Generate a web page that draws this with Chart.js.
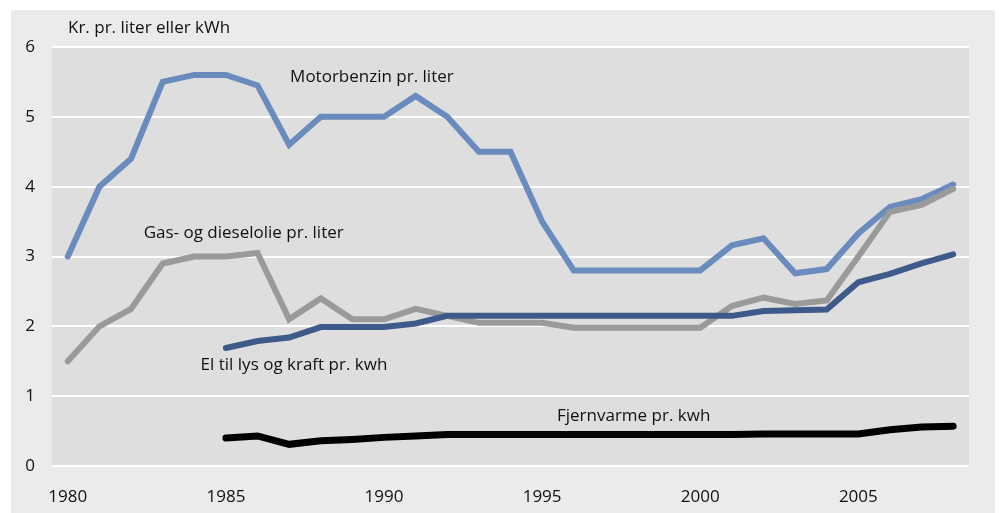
<!DOCTYPE html>
<html>
<head>
<meta charset="utf-8">
<script src="https://cdn.jsdelivr.net/npm/chart.js@4"></script>
<style>
    html, body { margin: 0; padding: 0; background: #ffffff; }
    #wrap { width: 1000px; height: 513px; }
</style>
</head>
<body>
<div id="wrap"><canvas id="priceChart" width="1000" height="513"></canvas></div>
<script>
// Years on the x axis
const years = [];
for (let y = 1980; y <= 2008; y++) years.push(String(y));

// Kr. per liter / kWh
const motorbenzin = [3.0, 4.0, 4.4, 5.5, 5.6, 5.6, 5.45, 4.6, 5.0, 5.0,
    5.0, 5.3, 5.0, 4.5, 4.5, 3.5, 2.8, 2.8, 2.8, 2.8,
    2.8, 3.16, 3.26, 2.76, 2.82, 3.33, 3.71, 3.82, 4.03];
const gasDiesel = [1.5, 2.0, 2.25, 2.9, 3.0, 3.0, 3.05, 2.1, 2.4, 2.1,
    2.1, 2.25, 2.15, 2.05, 2.05, 2.05, 1.98, 1.98, 1.98, 1.98,
    1.98, 2.29, 2.41, 2.32, 2.37, 3.0, 3.64, 3.74, 3.97];
const elKraft = [null, null, null, null, null, 1.69, 1.79, 1.84, 1.99, 1.99,
    1.99, 2.04, 2.15, 2.15, 2.15, 2.15, 2.15, 2.15, 2.15, 2.15,
    2.15, 2.15, 2.22, 2.23, 2.24, 2.63, 2.75, 2.9, 3.03];
const fjernvarme = [null, null, null, null, null, 0.4, 0.43, 0.31, 0.36, 0.38,
    0.41, 0.43, 0.45, 0.45, 0.45, 0.45, 0.45, 0.45, 0.45, 0.45,
    0.45, 0.45, 0.46, 0.46, 0.46, 0.46, 0.52, 0.56, 0.57];

const yTicks = [0, 1, 2, 3, 4, 5, 6];

// Line labels placed in data space (year, value)
const lineLabels = [
    { text: 'Motorbenzin pr. liter', year: 1987.03, value: 5.57 },
    { text: 'Gas- og dieselolie pr. liter', year: 1982.4, value: 3.34 },
    { text: 'El til lys og kraft pr. kwh', year: 1984.2, value: 1.45 },
    { text: 'Fjernvarme pr. kwh', year: 1995.47, value: 0.72 }
];

const FONT = '"Open Sans", "Noto Sans", sans-serif';

const backgroundPlugin = {
    id: 'backgroundPlugin',
    beforeDraw(chart) {
        const ctx = chart.ctx;
        const area = chart.chartArea;
        ctx.save();
        ctx.fillStyle = '#ffffff';
        ctx.fillRect(0, 0, chart.width, chart.height);
        ctx.fillStyle = '#ebebeb';
        ctx.fillRect(11, 10, 984, chart.height - 10);
        ctx.fillStyle = '#dedede';
        ctx.fillRect(area.left, area.top, area.right - area.left, area.bottom - area.top);
        ctx.restore();
    }
};

const labelPlugin = {
    id: 'labelPlugin',
    afterDatasetsDraw(chart) {
        const ctx = chart.ctx;
        const x = chart.scales.x;
        const y = chart.scales.y;
        const x0 = x.getPixelForValue(0);
        const step = x.getPixelForValue(1) - x0;
        ctx.save();
        ctx.fillStyle = '#111111';
        ctx.font = '17px ' + FONT;
        ctx.textBaseline = 'middle';
        ctx.textAlign = 'left';
        lineLabels.forEach(l => {
            ctx.fillText(l.text, x0 + (l.year - 1980) * step, y.getPixelForValue(l.value));
        });
        // axis unit title
        ctx.fillText('Kr. pr. liter eller kWh', chart.chartArea.left + 16, chart.chartArea.top - 19);
        ctx.restore();
    }
};

function makeSet(label, data, color, width, order) {
    return {
        label: label,
        data: data,
        borderColor: color,
        backgroundColor: color,
        borderWidth: width,
        pointRadius: 0,
        tension: 0,
        borderCapStyle: 'round',
        fill: false,
        spanGaps: false,
        order: order
    };
}

const ctx = document.getElementById('priceChart').getContext('2d');
new Chart(ctx, {
    type: 'line',
    data: {
        labels: years,
        datasets: [
            makeSet('Motorbenzin pr. liter', motorbenzin, '#6a8bbe', 6, 4),
            makeSet('Gas- og dieselolie pr. liter', gasDiesel, '#9a9a9a', 6, 3),
            makeSet('El til lys og kraft pr. kwh', elKraft, '#3e5a8b', 6, 2),
            makeSet('Fjernvarme pr. kwh', fjernvarme, '#000000', 7, 1)
        ]
    },
    options: {
        responsive: false,
        animation: false,
        devicePixelRatio: 1,
        layout: {
            padding: { top: 47, right: 31, bottom: 0, left: 0 }
        },
        plugins: {
            legend: { display: false },
            tooltip: { enabled: false }
        },
        scales: {
            x: {
                type: 'category',
                offset: true,
                grid: { display: false, drawTicks: false },
                border: { display: false },
                afterFit: function(scale) { scale.height = 47; },
                ticks: {
                    autoSkip: false,
                    maxRotation: 0,
                    padding: 21,
                    color: '#111111',
                    font: { family: FONT, size: 17 },
                    callback: function(value, index) {
                        const yr = Number(years[index]);
                        return yr % 5 === 0 ? String(yr) : '';
                    }
                }
            },
            y: {
                min: 0,
                max: 6,
                afterFit: function(scale) { scale.width = 52; },
                afterBuildTicks: function(scale) {
                    scale.ticks = yTicks.map(v => ({ value: v }));
                },
                grid: { color: '#ffffff', lineWidth: 2, drawTicks: false },
                border: { display: false },
                ticks: {
                    padding: 17,
                    color: '#111111',
                    font: { family: FONT, size: 17 }
                }
            }
        }
    },
    plugins: [backgroundPlugin, labelPlugin]
});
</script>
</body>
</html>
